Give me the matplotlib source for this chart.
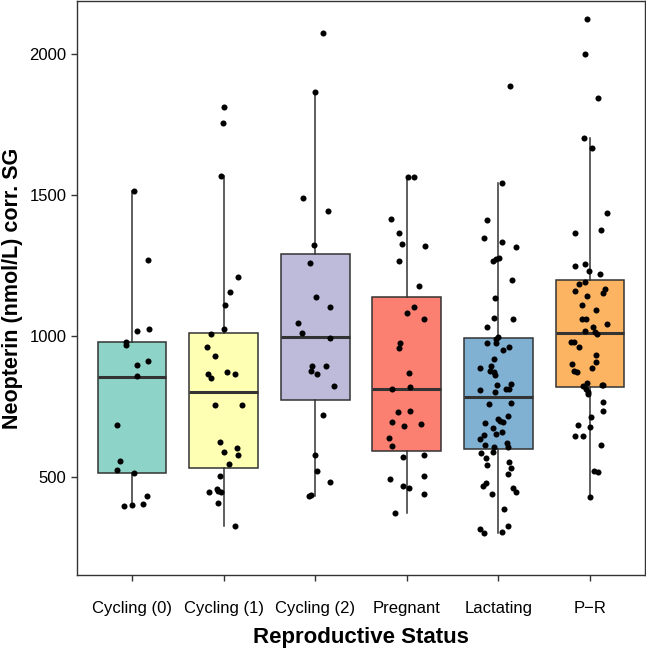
import numpy as np
import matplotlib
matplotlib.use("Agg")
import matplotlib.pyplot as plt

plt.rcParams['font.family'] = ['Liberation Sans', 'DejaVu Sans']

groups = ["Cycling (0)", "Cycling (1)", "Cycling (2)", "Pregnant", "Lactating", "P\u2212R"]
colors = ["#8DD3C7", "#FFFFB3", "#BEBADA", "#FB8072", "#80B1D3", "#FDB462"]

# box statistics
q1 = [513, 533, 773, 593, 600, 820]
med = [856, 800, 995, 810, 785, 1012]
q3 = [978, 1012, 1290, 1138, 994, 1199]
whislo = [397, 327, 433, 371, 301, 427]
whishi = [1515, 1568, 1864, 1565, 1544, 1701]

# observations (neopterin) and horizontal jitter, per group
vals_c0 = [1515, 1269, 1017, 1025, 980, 969, 898, 912, 857, 685, 557, 525, 513, 433, 405, 402, 397]
jit_c0 = [0.025, 0.17, 0.06, 0.19, -0.06, -0.07, 0.05, 0.17, 0.05, -0.16, -0.13, -0.16, 0.025, 0.16, 0.12, 0.0, -0.09]

vals_c1 = [1811, 1755, 1568, 1209, 1155, 1110, 1026, 1006, 961, 930, 865, 850, 872, 865,
           754, 754, 624, 590, 604, 578, 544, 502, 448, 456, 449, 446, 408, 327]
jit_c1 = [0.0, -0.01, -0.03, 0.16, 0.07, 0.02, 0.0, -0.14, -0.18, -0.09, -0.17, -0.14, 0.04, 0.13,
          -0.09, 0.2, -0.04, 0.01, 0.15, 0.16, 0.06, -0.04, -0.16, -0.07, -0.06, -0.03, -0.06, 0.13]

vals_c2 = [2076, 1864, 1488, 1443, 1324, 1259, 1138, 1102, 1047, 1012, 994, 893, 876, 865,
           895, 823, 720, 578, 521, 481, 436, 433]
jit_c2 = [0.09, 0.0, -0.13, 0.14, -0.01, -0.06, 0.01, 0.16, -0.19, -0.14, 0.16, -0.04, -0.05, 0.02,
          0.12, 0.2, 0.08, 0.0, 0.02, 0.16, -0.05, -0.07]

vals_pr = [1565, 1565, 1415, 1365, 1325, 1318, 1266, 1177, 1102, 1080, 1061, 976, 958, 868, 810, 818,
           731, 732, 694, 680, 688, 637, 609, 572, 579, 494, 504, 466, 462, 440, 371]
jit_pr = [0.01, 0.08, -0.17, -0.09, -0.05, 0.2, -0.09, 0.13, 0.08, 0.0, 0.19, -0.07, -0.08, 0.02, -0.16, 0.04,
          -0.1, 0.04, -0.16, -0.03, 0.16, -0.19, -0.16, -0.04, 0.19, -0.18, 0.19, -0.04, 0.02, 0.19, -0.13]

vals_la = [1887, 1544, 1410, 1346, 1333, 1315, 1266, 1272, 1278, 1197, 1135, 1065, 1061, 1033, 997, 989,
           974, 976, 961, 950, 919, 888, 895, 876, 873, 862, 829, 825, 813, 813, 808, 801, 763, 760,
           715, 705, 699, 693, 691, 674, 658, 652, 648, 634, 621, 612, 606, 606, 586, 588, 568, 552,
           543, 533, 512, 478, 467, 460, 446, 440, 385, 315, 301, 306, 327]
jit_la = [0.13, 0.04, -0.13, -0.16, 0.04, 0.19, -0.06, -0.03, 0.01, 0.15, -0.04, -0.05, 0.16, -0.12, -0.01, -0.03,
          -0.13, -0.03, 0.12, 0.05, -0.05, -0.2, -0.08, -0.09, -0.05, -0.04, 0.14, -0.02, 0.08, 0.12, -0.2, -0.04, 0.14, -0.1,
          0.11, 0.0, 0.02, 0.05, -0.15, -0.06, 0.04, -0.03, -0.16, -0.2, 0.09, -0.15, -0.05, 0.1, -0.19, -0.06, -0.14, 0.12,
          -0.12, 0.14, 0.11, -0.14, -0.17, 0.16, 0.19, -0.07, 0.06, -0.2, -0.16, 0.04, 0.11]

vals_pp = [2123, 1999, 1845, 1703, 1666, 1437, 1377, 1364, 1249, 1255, 1232, 1219, 1193, 1184, 1160, 1168,
           1152, 1143, 1109, 1091, 1059, 1059, 1043, 1031, 1017, 1014, 1007, 980, 978, 960, 934, 902,
           907, 888, 877, 872, 833, 824, 827, 827, 812, 800, 793, 766, 735, 712, 684, 677, 645, 646,
           613, 521, 517, 427]
jit_pp = [-0.03, -0.05, 0.09, -0.07, 0.02, 0.18, 0.12, -0.16, -0.16, -0.06, -0.01, 0.11, -0.05, -0.12, -0.16, 0.16,
          0.14, -0.03, -0.09, 0.06, -0.09, -0.04, 0.19, 0.03, -0.05, 0.05, 0.08, -0.21, -0.17, -0.12, 0.06, -0.2,
          0.07, 0.02, -0.18, -0.14, -0.03, -0.08, 0.13, 0.14, -0.04, -0.02, -0.02, 0.14, 0.14, 0.01, -0.13, 0.0, -0.16, -0.08,
          0.12, 0.04, 0.09, 0.0]

all_vals = [vals_c0, vals_c1, vals_c2, vals_pr, vals_la, vals_pp]
all_jit = [jit_c0, jit_c1, jit_c2, jit_pr, jit_la, jit_pp]

fig = plt.figure(figsize=(6.46, 6.52), dpi=100)
ax = fig.add_axes([77 / 646, 77 / 652, 568 / 646, 574 / 652])

pos = np.arange(1, len(groups) + 1)
stats = []
for i in range(len(groups)):
    stats.append({"q1": q1[i], "med": med[i], "q3": q3[i],
                  "whislo": whislo[i], "whishi": whishi[i], "fliers": []})

edge = "#333333"
bp = ax.bxp(stats, positions=pos, widths=0.75, patch_artist=True, showcaps=False,
            boxprops=dict(edgecolor=edge, linewidth=1.1),
            whiskerprops=dict(color=edge, linewidth=1.1),
            medianprops=dict(color=edge, linewidth=2.2, solid_capstyle="butt"))
for patch, c in zip(bp["boxes"], colors):
    patch.set_facecolor(c)

for i in range(len(groups)):
    xs = pos[i] + np.array(all_jit[i])
    ax.scatter(xs, all_vals[i], s=19, color="black", zorder=5, linewidths=0)

ax.set_xlim(0.4, 6.6)
ax.set_ylim(152, 2188)
ax.set_xticks(pos)
ax.set_xticklabels(groups)
ax.set_yticks([500, 1000, 1500, 2000])
ax.tick_params(axis="both", labelsize=12, colors="#333333", labelcolor="black", length=4, width=1)
ax.tick_params(axis="x", pad=15)

for sp in ax.spines.values():
    sp.set_color("#333333")
    sp.set_linewidth(1)

ax.set_xlabel("Reproductive Status", fontsize=16, fontweight="bold", labelpad=8)
ax.set_ylabel("Neopterin (nmol/L) corr. SG", fontsize=15.5, fontweight="bold", labelpad=5)

fig.savefig("out.png", dpi=100)
